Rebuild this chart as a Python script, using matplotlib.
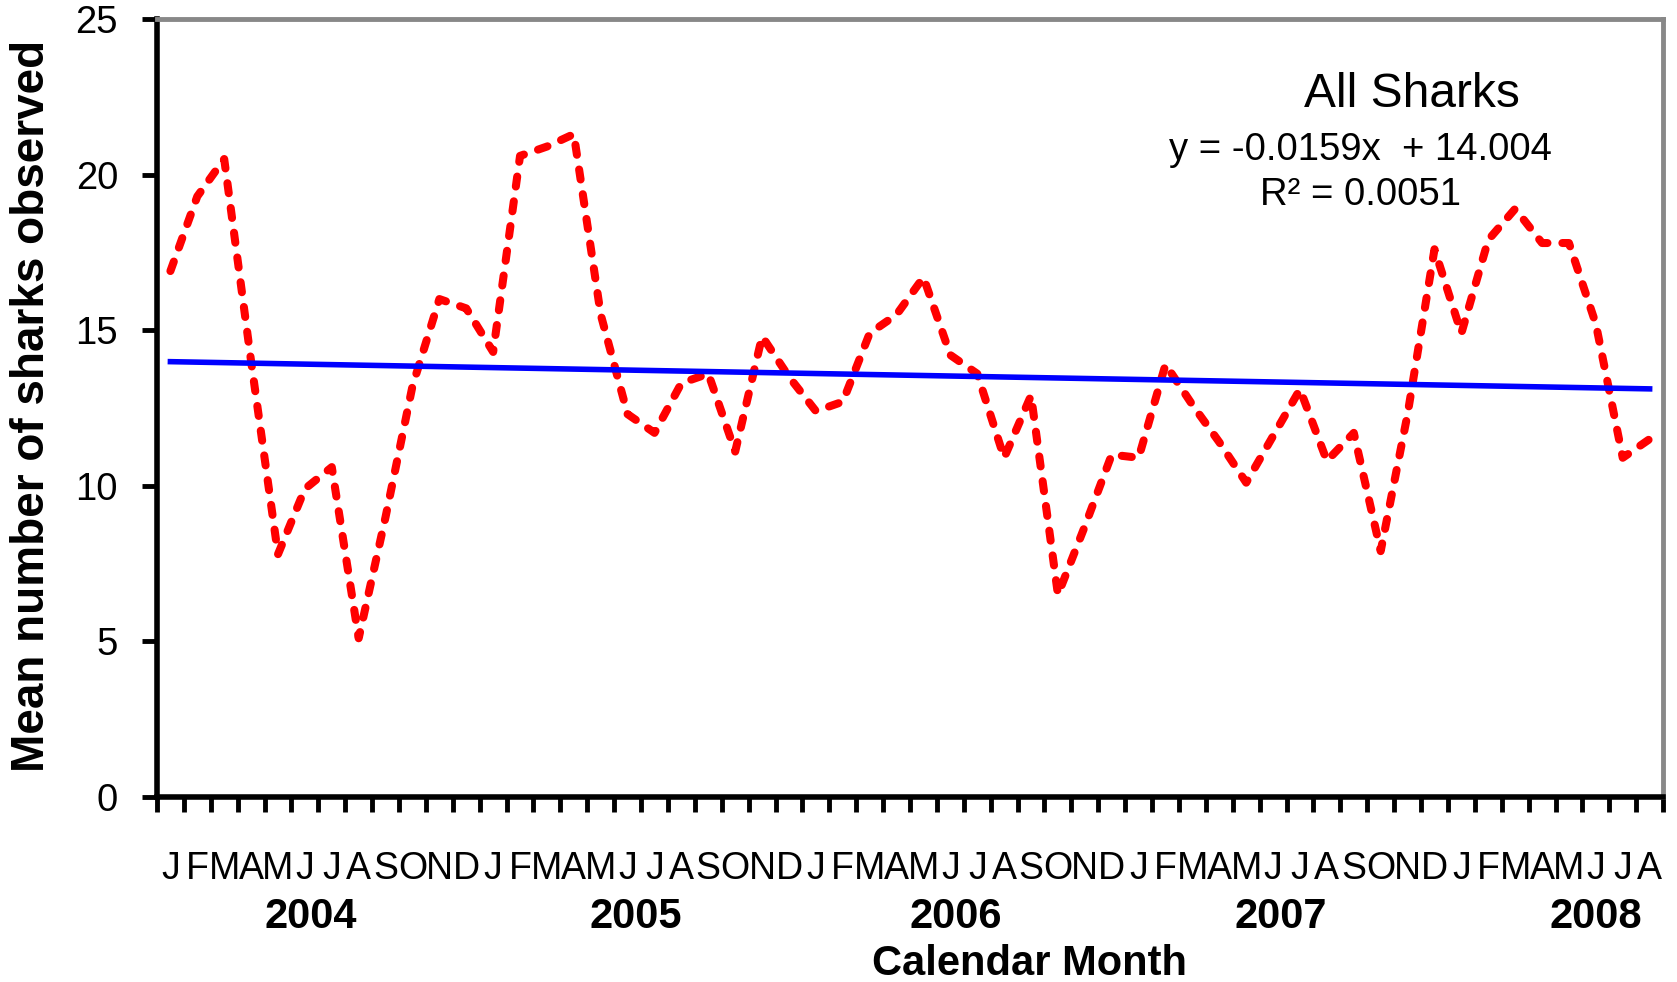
import numpy as np
import matplotlib
matplotlib.use("Agg")
import matplotlib.pyplot as plt
import matplotlib.transforms as mtransforms
from matplotlib import font_manager

# monthly means, Jan 2004 - Aug 2008
months = ["J", "F", "M", "A", "M", "J", "J", "A", "S", "O", "N", "D"] * 4 + \
         ["J", "F", "M", "A", "M", "J", "J", "A"]
sharks = [16.9, 19.3, 20.5, 14.0, 7.8, 9.9, 10.6, 5.1, 9.0, 13.2, 16.0, 15.7,
          14.3, 20.6, 20.9, 21.3, 15.5, 12.3, 11.7, 13.3, 13.6, 11.1, 14.8, 13.5,
          12.4, 12.7, 14.9, 15.5, 16.7, 14.2, 13.6, 10.9, 12.9, 6.5, 8.7, 11.0,
          10.9, 13.9, 12.6, 11.4, 10.1, 11.6, 13.1, 10.8, 11.7, 7.9, 12.3, 17.6,
          14.9, 17.9, 18.9, 17.8, 17.8, 15.2, 10.9, 11.5]
years = ["2004", "2005", "2006", "2007", "2008"]
year_pos = [5.2, 17.3, 29.2, 41.3, 53.0]
slope, intercept, r2 = -0.0159, 14.004, 0.0051
yticks = [0, 5, 10, 15, 20, 25]

names = {f.name for f in font_manager.fontManager.ttflist}
plain = "Liberation Sans" if "Liberation Sans" in names else "DejaVu Sans"
if "Liberation Sans Narrow" in names:
    narrow = "Liberation Sans Narrow"
    sz_month, sz_year, sz_xlab, sz_ylab = 32, 34, 34, 39
else:
    narrow = plain
    sz_month, sz_year, sz_xlab, sz_ylab = 27, 30, 30, 33

plt.rcParams["font.family"] = [plain, "DejaVu Sans"]

fig = plt.figure(figsize=(16.77, 9.82), dpi=100)
ax = fig.add_axes([0.0936, 0.1884, 0.8981, 0.7923])

x = np.arange(len(sharks))
ax.plot(x, sharks, color="#ff0000", lw=5.8, dashes=(1.25, 1.85),
        dash_capstyle="round", solid_capstyle="round", zorder=3)
trend = slope * (x + 1) + intercept
ax.plot(x, trend, color="#0000ff", lw=4, zorder=4)

ax.set_xlim(-0.5, len(sharks) - 0.5)
ax.set_ylim(0, 25)
ax.set_xticks(np.arange(-0.5, len(sharks), 1))
ax.set_xticklabels([])
ax.set_yticks(yticks)
ax.set_yticklabels([str(v) for v in yticks])
ax.tick_params(axis="both", direction="out", length=11, width=3.5, color="black")
ax.tick_params(axis="y", labelsize=27.5, pad=17)

for side in ["left", "bottom"]:
    ax.spines[side].set_linewidth(4)
    ax.spines[side].set_color("black")
for side in ["top", "right"]:
    ax.spines[side].set_linewidth(3.5)
    ax.spines[side].set_color("#888888")

trans = mtransforms.blended_transform_factory(ax.transData, fig.transFigure)
for i, m in enumerate(months):
    ax.text(i, 0.105, m, transform=trans, ha="center", va="baseline",
            fontsize=sz_month, family=narrow, clip_on=False)
for pos, yr in zip(year_pos, years):
    ax.text(pos, 0.055, yr, transform=trans, ha="center", va="baseline",
            fontsize=sz_year, fontweight="bold", family=narrow, clip_on=False)

fig.text(0.6136, 0.007, "Calendar Month", ha="center", va="baseline",
         fontsize=sz_xlab, fontweight="bold", family=narrow)
fig.text(0.019, 0.5866, "Mean number of sharks observed", rotation=90,
         ha="center", va="center", fontsize=sz_ylab, fontweight="bold",
         family=narrow)

fig.text(1412 / 1677, 1 - 107 / 982, "All Sharks", ha="center", va="baseline",
         fontsize=34.5)
fig.text(1360 / 1677, 1 - 160 / 982, f"y = {slope}x  + {intercept}",
         ha="center", va="baseline", fontsize=27.5)
fig.text(1361 / 1677, 1 - 205 / 982, f"R² = {r2}", ha="center",
         va="baseline", fontsize=27.5)

fig.savefig("out.png", dpi=100)
